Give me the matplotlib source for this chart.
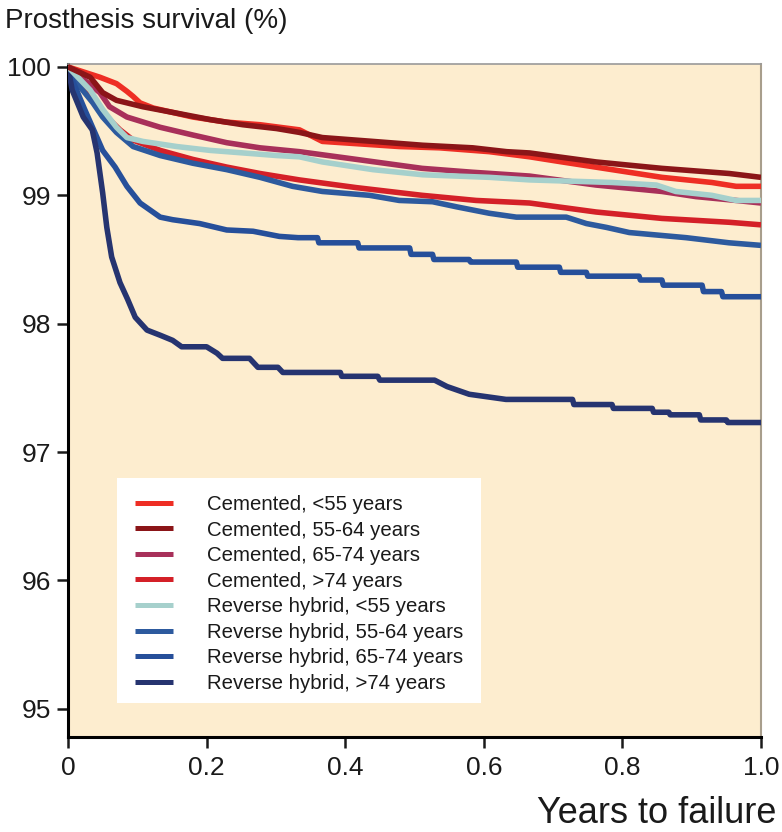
import matplotlib
matplotlib.use("Agg")
import matplotlib.pyplot as plt
from matplotlib.patches import Rectangle

plt.rcParams['font.family'] = ['Liberation Sans', 'DejaVu Sans']

labels = ["Cemented, <55 years", "Cemented, 55-64 years", "Cemented, 65-74 years",
          "Cemented, >74 years", "Reverse hybrid, <55 years", "Reverse hybrid, 55-64 years",
          "Reverse hybrid, 65-74 years", "Reverse hybrid, >74 years"]
colors = ['#ee2e24', '#8b1518', '#a8305a', '#d42028', '#a6d0cc', '#2d5a9e', '#264f9a', '#263470']

t_cem_lt55 = [0, 0.046, 0.07, 0.085, 0.094, 0.104, 0.123, 0.18, 0.229, 0.277, 0.334, 0.367,
              0.478, 0.536, 0.608, 0.666, 0.713, 0.785, 0.857, 0.929, 0.964, 1.0]
v_cem_lt55 = [100, 99.92, 99.87, 99.81, 99.77, 99.72, 99.68, 99.61, 99.57, 99.55, 99.51, 99.42,
              99.38, 99.37, 99.34, 99.30, 99.26, 99.20, 99.14, 99.10, 99.07, 99.07]

t_cem_55 = [0, 0.032, 0.05, 0.07, 0.108, 0.157, 0.205, 0.252, 0.301, 0.334, 0.367, 0.44,
            0.512, 0.584, 0.633, 0.666, 0.762, 0.857, 0.954, 1.0]
v_cem_55 = [100, 99.92, 99.80, 99.74, 99.69, 99.64, 99.59, 99.55, 99.52, 99.49, 99.45, 99.42,
            99.39, 99.37, 99.34, 99.33, 99.26, 99.21, 99.17, 99.14]

t_cem_65 = [0, 0.046, 0.06, 0.085, 0.133, 0.18, 0.229, 0.277, 0.334, 0.416, 0.511, 0.583,
            0.666, 0.762, 0.857, 0.906, 0.964, 1.0]
v_cem_65 = [100, 99.80, 99.69, 99.61, 99.53, 99.47, 99.41, 99.37, 99.34, 99.28, 99.21, 99.18,
            99.15, 99.08, 99.03, 98.99, 98.96, 98.94]

t_cem_gt74 = [0, 0.036, 0.056, 0.075, 0.094, 0.133, 0.18, 0.229, 0.277, 0.334, 0.416, 0.511,
              0.589, 0.666, 0.762, 0.857, 0.954, 1.0]
v_cem_gt74 = [100, 99.77, 99.61, 99.51, 99.43, 99.35, 99.28, 99.22, 99.17, 99.12, 99.06, 99.00,
              98.96, 98.94, 98.87, 98.82, 98.79, 98.77]

t_rev_lt55 = [0, 0.032, 0.05, 0.07, 0.085, 0.108, 0.157, 0.205, 0.253, 0.301, 0.334, 0.367,
              0.44, 0.512, 0.608, 0.666, 0.785, 0.849, 0.877, 0.929, 0.964, 1.0]
v_rev_lt55 = [100, 99.82, 99.67, 99.53, 99.45, 99.42, 99.38, 99.35, 99.33, 99.31, 99.30, 99.26,
              99.20, 99.16, 99.14, 99.12, 99.10, 99.08, 99.03, 99.00, 98.96, 98.96]

t_rev_55 = [0, 0.006, 0.036, 0.05, 0.07, 0.094, 0.133, 0.18, 0.229, 0.277, 0.324, 0.367, 0.435,
            0.478, 0.526, 0.561, 0.608, 0.647, 0.719, 0.748, 0.777, 0.81, 0.892, 0.954, 1.0]
v_rev_55 = [100, 99.92, 99.72, 99.61, 99.49, 99.38, 99.31, 99.25, 99.20, 99.14, 99.07, 99.03, 99.00,
            98.96, 98.95, 98.91, 98.86, 98.83, 98.83, 98.78, 98.75, 98.71, 98.67, 98.63, 98.61]

t_rev_65 = [0, 0.006, 0.024, 0.05, 0.068, 0.085, 0.104, 0.133, 0.151, 0.19, 0.229, 0.267, 0.305,
            0.332, 0.36, 0.362, 0.418, 0.42, 0.493, 0.495, 0.526, 0.528, 0.579, 0.581, 0.647,
            0.649, 0.709, 0.711, 0.748, 0.75, 0.824, 0.826, 0.857, 0.859, 0.915, 0.917, 0.943,
            0.945, 1.0]
v_rev_65 = [100, 99.90, 99.67, 99.35, 99.22, 99.07, 98.94, 98.83, 98.81, 98.78, 98.73, 98.72, 98.68,
            98.67, 98.67, 98.63, 98.63, 98.59, 98.59, 98.54, 98.54, 98.50, 98.50, 98.48, 98.48,
            98.44, 98.44, 98.40, 98.40, 98.37, 98.37, 98.34, 98.34, 98.30, 98.30, 98.25, 98.25,
            98.21, 98.21]

t_rev_gt74 = [0, 0.006, 0.022, 0.035, 0.042, 0.05, 0.056, 0.063, 0.075, 0.086, 0.097, 0.114,
              0.133, 0.151, 0.164, 0.2, 0.215, 0.223, 0.262, 0.274, 0.303, 0.31, 0.393, 0.395,
              0.447, 0.45, 0.529, 0.547, 0.579, 0.632, 0.728, 0.73, 0.785, 0.787, 0.843, 0.845,
              0.867, 0.869, 0.911, 0.913, 0.95, 0.952, 1.0]
v_rev_gt74 = [100, 99.82, 99.61, 99.51, 99.33, 99.02, 98.75, 98.52, 98.32, 98.19, 98.05, 97.95,
              97.91, 97.87, 97.82, 97.82, 97.77, 97.73, 97.73, 97.66, 97.66, 97.62, 97.62, 97.59,
              97.59, 97.56, 97.56, 97.51, 97.45, 97.41, 97.41, 97.37, 97.37, 97.34, 97.34, 97.31,
              97.31, 97.29, 97.29, 97.25, 97.25, 97.23, 97.23]

series_t = [t_cem_lt55, t_cem_55, t_cem_65, t_cem_gt74, t_rev_lt55, t_rev_55, t_rev_65, t_rev_gt74]
series_v = [v_cem_lt55, v_cem_55, v_cem_65, v_cem_gt74, v_rev_lt55, v_rev_55, v_rev_65, v_rev_gt74]
zorders = [4, 5, 3, 3, 4, 3, 3, 3]

xticks = [0, 0.2, 0.4, 0.6, 0.8, 1.0]
xticklabels = ['0', '0.2', '0.4', '0.6', '0.8', '1.0']
yticks = [95, 96, 97, 98, 99, 100]

fig = plt.figure(figsize=(7.82, 8.32), dpi=100)
ax = fig.add_axes([68/782, 1 - 737/832, (761-68)/782, (737-64)/832])
ax.set_facecolor('#fdedcf')

for t, v, c, lab, z in zip(series_t, series_v, colors, labels, zorders):
    ax.plot(t, v, color=c, lw=4.0, label=lab, zorder=z, solid_capstyle='butt')

ax.set_xlim(0, 1.0)
ax.set_ylim(94.78, 100.023)
ax.set_xticks(xticks)
ax.set_xticklabels(xticklabels)
ax.set_yticks(yticks)
ax.tick_params(axis='both', labelsize=19, colors='#1a1a1a', width=1.8, length=8)
ax.tick_params(axis='y', pad=4)
ax.tick_params(axis='x', pad=6)

for s in ['left', 'bottom']:
    ax.spines[s].set_linewidth(2.2)
    ax.spines[s].set_color('black')
ax.spines['top'].set_color('#9a9a9a')
ax.spines['top'].set_linewidth(1.2)
ax.spines['right'].set_color('#a89e8c')
ax.spines['right'].set_linewidth(1.5)

# white legend panel
ax.add_patch(Rectangle((117/782, 1 - 703/832), 364/782, 225/832, transform=fig.transFigure,
                       facecolor='white', edgecolor='none', zorder=6, clip_on=False))

leg = ax.legend(loc='upper left', bbox_to_anchor=(135/782, 1 - 495/832),
                bbox_transform=fig.transFigure, fontsize=14.7, frameon=False,
                borderaxespad=0, borderpad=0, handlelength=1.86, handletextpad=1.67,
                labelspacing=0.32)
leg.set_zorder(7)
for line in leg.get_lines():
    line.set_linewidth(3.6)
for txt in leg.get_texts():
    txt.set_color('#1a1a1a')

fig.text(5/782, 1 - 28/832, 'Prosthesis survival (%)', fontsize=20, ha='left', va='baseline',
         color='#1a1a1a')
fig.text(776/782, 1 - 823/832, 'Years to failure', fontsize=26, ha='right', va='baseline',
         color='#1a1a1a')

fig.savefig('out.png', dpi=100)
